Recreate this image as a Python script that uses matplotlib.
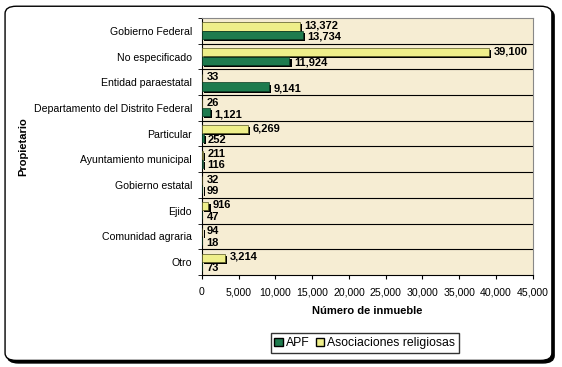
import numpy as np
import matplotlib
matplotlib.use('Agg')
import matplotlib.pyplot as plt
import matplotlib.patheffects as pe
from matplotlib.patches import FancyBboxPatch, Patch

plt.rcParams['font.family'] = ['Liberation Sans', 'DejaVu Sans']

categorias = ['Gobierno Federal', 'No especificado', 'Entidad paraestatal',
              'Departamento del Distrito Federal', 'Particular', 'Ayuntamiento municipal',
              'Gobierno estatal', 'Ejido', 'Comunidad agraria', 'Otro']
asociaciones = [13372, 39100, 33, 26, 6269, 211, 32, 916, 94, 3214]
apf = [13734, 11924, 9141, 1121, 252, 116, 99, 47, 18, 73]
xticks = [0, 5000, 10000, 15000, 20000, 25000, 30000, 35000, 40000, 45000]

verde = '#1E7B4E'
amarillo = '#EFEF8A'

fig = plt.figure(figsize=(5.62, 3.67), dpi=100)
fig.patch.set_facecolor('white')

# marco redondeado con sombra
sombra = FancyBboxPatch((0.013, 0.011), 0.973, 0.965, boxstyle='round,pad=0,rounding_size=0.02',
                        transform=fig.transFigure, facecolor='black', edgecolor='black', zorder=-2)
marco = FancyBboxPatch((0.009, 0.018), 0.973, 0.965, boxstyle='round,pad=0,rounding_size=0.02',
                       transform=fig.transFigure, facecolor='white', edgecolor='black', lw=1.0, zorder=-1)
fig.patches.extend([sombra, marco])

ax = fig.add_axes([0.359, 0.251, 0.589, 0.70])
ax.set_facecolor('#F6EDD3')

y = np.arange(len(categorias))
h = 0.32
sh = [pe.SimplePatchShadow(offset=(1.5, -1.5), shadow_rgbFace='black', alpha=1), pe.Normal()]
ax.barh(y - h / 2 - 0.01, asociaciones, height=h, color=amarillo, edgecolor='#555522', lw=0.5,
        path_effects=sh, zorder=3)
ax.barh(y + h / 2 + 0.01, apf, height=h, color=verde, edgecolor='#0A3A22', lw=0.5,
        path_effects=sh, zorder=3)

for yi, v in zip(y, asociaciones):
    ax.text(v + 600, yi - h / 2 - 0.05, f'{v:,}', va='center', ha='left', fontsize=8, fontweight='bold', zorder=4)
for yi, v in zip(y, apf):
    ax.text(v + 600, yi + h / 2 + 0.08, f'{v:,}', va='center', ha='left', fontsize=8, fontweight='bold', zorder=4)

ax.set_ylim(len(categorias) - 0.5, -0.5)
ax.set_xlim(0, 45000)
for b in np.arange(0.5, len(categorias) - 0.5, 1):
    ax.axhline(b, color='black', lw=0.8, zorder=2)

ax.set_yticks(y)
ax.set_yticklabels(categorias, fontsize=7.6)
ax.set_yticks(np.arange(-0.5, len(categorias), 1), minor=True)
ax.tick_params(axis='y', which='major', length=0, pad=7)
ax.tick_params(axis='y', which='minor', length=3, direction='out')
ax.set_xticks(xticks)
ax.set_xticklabels([f'{t:,}' for t in xticks], fontsize=7.6)
ax.tick_params(axis='x', length=3, direction='out', pad=6)

for s in ['top', 'right']:
    ax.spines[s].set_color('#888888')
    ax.spines[s].set_linewidth(0.8)
for s in ['left', 'bottom']:
    ax.spines[s].set_color('black')
    ax.spines[s].set_linewidth(0.8)

ax.set_xlabel('Número de inmueble', fontsize=8, fontweight='bold', labelpad=6)
ax.set_ylabel('Propietario', fontsize=8, fontweight='bold')
ax.yaxis.set_label_coords(-0.525, 0.5)

handles = [Patch(facecolor=verde, edgecolor='black', label='APF'),
           Patch(facecolor=amarillo, edgecolor='black', label='Asociaciones religiosas')]
fig.legend(handles=handles, loc='center', bbox_to_anchor=(0.649, 0.065), ncol=2, fontsize=8.8,
           frameon=True, fancybox=False, edgecolor='black', handlelength=0.7, handleheight=0.7,
           handletextpad=0.25, columnspacing=0.5, borderpad=0.3, borderaxespad=0)

fig.savefig('out.png', dpi=100)
